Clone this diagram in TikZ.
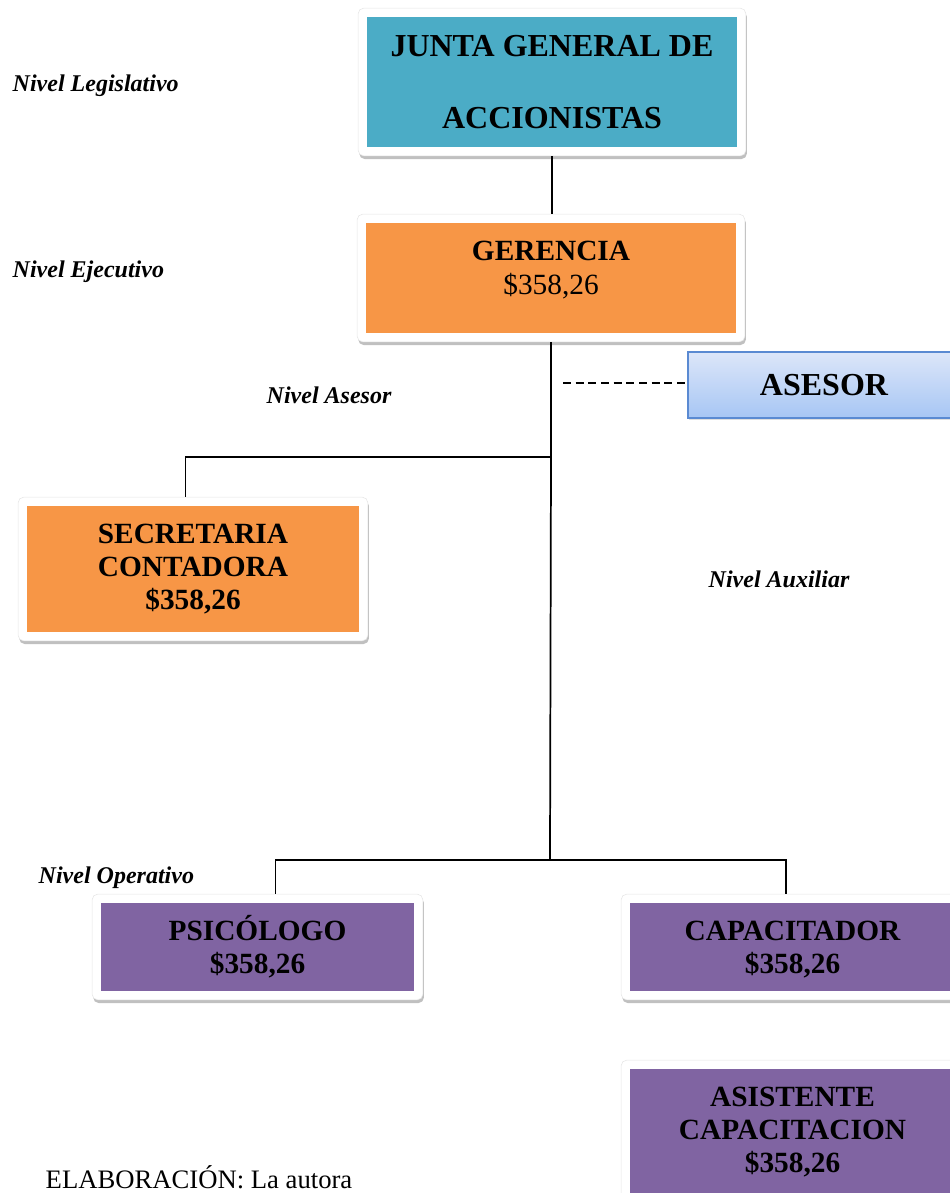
\documentclass[tikz,border=0pt]{standalone}
\usepackage{fontspec}
\setmainfont{Liberation Serif}
\usetikzlibrary{fit,shadows,backgrounds}
\definecolor{aqua}{HTML}{4BACC6}
\definecolor{orng}{HTML}{F79646}
\definecolor{purp}{HTML}{8064A2}
\definecolor{asesortop}{HTML}{DCE6F9}
\definecolor{asesorbot}{HTML}{A7C6F4}
\definecolor{asesorline}{HTML}{5A8AD2}
\begin{document}
\begin{tikzpicture}[x=0.75pt,y=-0.75pt,
  panel/.style={inner sep=0pt, align=center, font=\fontsize{22pt}{25pt}\selectfont\bfseries},
  frame/.style={inner sep=6.4pt, fill=white, draw=black!10, line width=0.4pt, rounded corners=4pt,
    drop shadow={shadow xshift=0.8pt, shadow yshift=-2.4pt, opacity=0.45, fill=black!55}},
  link/.style={line width=1.3pt, black},
  level/.style={anchor=base west, font=\fontsize{18pt}{20pt}\selectfont\bfseries\itshape},
]
\useasboundingbox (0,0) rectangle (950,1193);

% organisation boxes
\node[panel, fill=aqua, minimum width=277.5pt, minimum height=97.5pt,
      font=\fontsize{24pt}{54pt}\selectfont\bfseries] (junta) at (552,82) {JUNTA GENERAL DE\\ACCIONISTAS};
\node[panel, fill=orng, minimum width=277.5pt, minimum height=82.5pt,
      font=\fontsize{22pt}{25.5pt}\selectfont\bfseries]
      (gerencia) at (551,278) {GERENCIA\\{\mdseries\$358,26}\\[-10.5pt]\mbox{}};
\node[panel, fill=orng, minimum width=249pt, minimum height=94.5pt] (secretaria) at (193,569)
      {SECRETARIA\\CONTADORA\\\$358,26};
\node[panel, fill=purp, minimum width=234.75pt, minimum height=66pt,
      font=\fontsize{22pt}{24.5pt}\selectfont\bfseries] (psicologo) at (257.5,947) {PSICÓLOGO\\\$358,26};
\node[panel, fill=purp, minimum width=243.75pt, minimum height=66pt,
      font=\fontsize{22pt}{25pt}\selectfont\bfseries] (capacitador) at (792.5,947)
      {\vphantom{Ó}CAPACITADOR\\\$358,26};
\node[panel, fill=purp, minimum width=243.75pt, minimum height=94.5pt,
      font=\fontsize{22pt}{24.5pt}\selectfont\bfseries] (asistente) at (792.5,1132)
      {ASISTENTE\\CAPACITACION\\\$358,26};
\node[panel, draw=asesorline, line width=1pt, top color=asesortop, bottom color=asesorbot,
      minimum width=204pt, minimum height=49.5pt, font=\fontsize{24pt}{26pt}\selectfont\bfseries,
      drop shadow={shadow xshift=0.6pt, shadow yshift=-1.8pt, opacity=0.25}] (asesor) at (824,385) {ASESOR};

% white rounded frames behind the coloured panels
\begin{scope}[on background layer]
  \foreach \n in {junta,gerencia,secretaria,psicologo,capacitador,asistente}
    \node[frame, fit=(\n)] (\n F) {};
\end{scope}

% level captions
\node[level] (lvLeg) at (8,91) {Nivel Legislativo};
\node[level] (lvEje) at (8,277) {Nivel Ejecutivo};
\node[level] (lvAse) at (262,403) {Nivel Asesor};
\node[level] (lvAux) at (704,587) {Nivel Auxiliar};
\node[level] (lvOpe) at (34,883) {Nivel Operativo};
\node[anchor=base west, font=\fontsize{20pt}{22pt}\selectfont] (source) at (41,1188) {ELABORACIÓN: La autora};

% connectors
\coordinate (jA) at (551,457);
\coordinate (jB) at (550,860);
\coordinate (dashEnd) at (563,383);
\draw[link] (juntaF.south) -- (juntaF.south |- gerenciaF.north);
\draw[link] (gerenciaF.south) -- (jA) -| ([xshift=-5.6pt]secretariaF.north);
\draw[link] (jA) -- (jB);
\draw[link] ([xshift=13.5pt]psicologoF.north) |- (jB) -| ([xshift=-4.9pt]capacitadorF.north);
\draw[line width=1pt, dash pattern=on 6pt off 3.5pt] (dashEnd) -- (dashEnd -| asesor.west);
\end{tikzpicture}
\end{document}
